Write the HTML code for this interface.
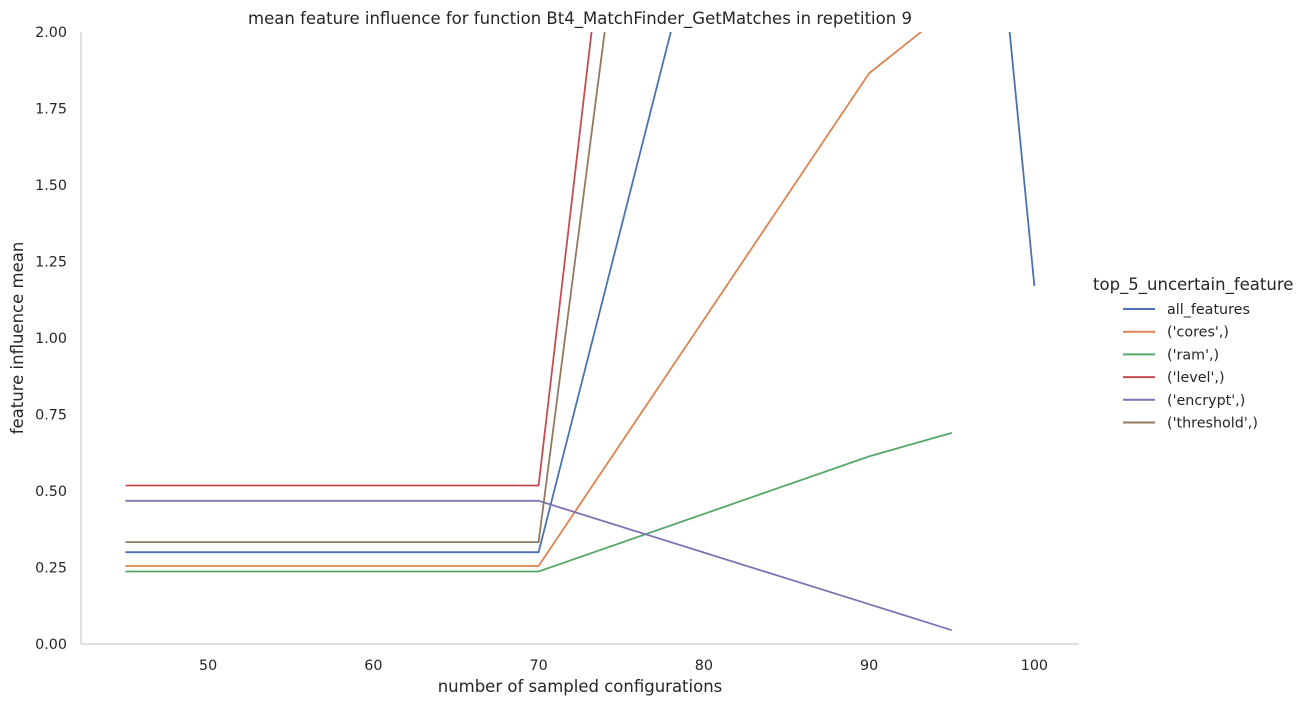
<!DOCTYPE html>
<html><head><meta charset="utf-8"><style>
body{margin:0;background:#fff;}
svg text{font-family:"DejaVu Sans","Liberation Sans",sans-serif;fill:#262626;}
</style></head><body>
<svg id="chart" width="1308" height="706">
<defs><clipPath id="clip"><rect x="81" y="32" width="998" height="612"/></clipPath></defs>
<g id="axes"></g>
<g id="lines" clip-path="url(#clip)"></g>
<g id="legend"></g>
</svg>
<script>
const xValues=[45,70,90,95,100];
const seriesNames=["all_features","('cores',)","('ram',)","('level',)","('encrypt',)","('threshold',)"];
const allFeatures=[0.30,0.30,4.55,3.94,1.17];
const cores=[0.255,0.255,1.865,2.08,null];
const ram=[0.237,0.237,0.613,0.69,null];
const level=[0.518,0.518,9.77,9.5,null];
const encrypt=[0.468,0.468,0.13,0.045,null];
const threshold=[0.333,0.333,8.67,8.5,null];
const xTicks=[50,60,70,80,90,100];
const yTicks=[0,0.25,0.5,0.75,1.0,1.25,1.5,1.75,2.0];
const colors=["#4c72b0","#dd8452","#55a868","#c44e52","#8172b3","#937860"];
const series=[allFeatures,cores,ram,level,encrypt,threshold];
const NS="http://www.w3.org/2000/svg";
const X=v=>81+(v-42.31)*(998/60.39);
const Y=v=>644-v*306;
function mk(tag,attrs,parent,text){const e=document.createElementNS(NS,tag);for(const k in attrs)e.setAttribute(k,attrs[k]);if(text!==undefined)e.textContent=text;parent.appendChild(e);return e;}
const axes=document.getElementById('axes');
const l1=mk('line',{x1:81,y1:32,x2:81,y2:644,stroke:'#ccc','stroke-width':1.2},axes);


const l2=mk('line',{x1:81,y1:644,x2:1079,y2:644,stroke:'#ccc','stroke-width':1.2},axes);


xTicks.forEach(t=>{const e=mk('text',{x:X(t),y:670,'text-anchor':'middle','font-size':14.3},axes,String(t));

});
yTicks.forEach(t=>{const e=mk('text',{x:67,y:Y(t)+5,'text-anchor':'end','font-size':14.3},axes,t.toFixed(2));

});
let e=mk('text',{x:580,y:692,'text-anchor':'middle','font-size':16.5},axes,'number of sampled configurations');


e=mk('text',{x:23,y:338,'text-anchor':'middle','font-size':16.5,transform:'rotate(-90 23 338)'},axes,'feature influence mean');


e=mk('text',{x:580,y:24,'text-anchor':'middle','font-size':16.5},axes,'mean feature influence for function Bt4_MatchFinder_GetMatches in repetition 9');


const lines=document.getElementById('lines');
series.forEach((s,i)=>{const pts=[];s.forEach((v,j)=>{if(v!==null)pts.push(X(xValues[j]).toFixed(1)+','+Y(v).toFixed(1));});
const p=mk('polyline',{points:pts.join(' '),fill:'none',stroke:colors[i],'stroke-width':1.8},lines);

});
const lg=document.getElementById('legend');
e=mk('text',{x:1093,y:290,'font-size':16.5},lg,'top_5_uncertain_feature');


seriesNames.forEach((n,i)=>{const y=309+i*22.7;
const ln=mk('line',{x1:1123,y1:y,x2:1155,y2:y,stroke:colors[i],'stroke-width':2},lg);


const t=mk('text',{x:1167,y:y+5,'font-size':14.3},lg,n);

});
</script>
</body></html>
